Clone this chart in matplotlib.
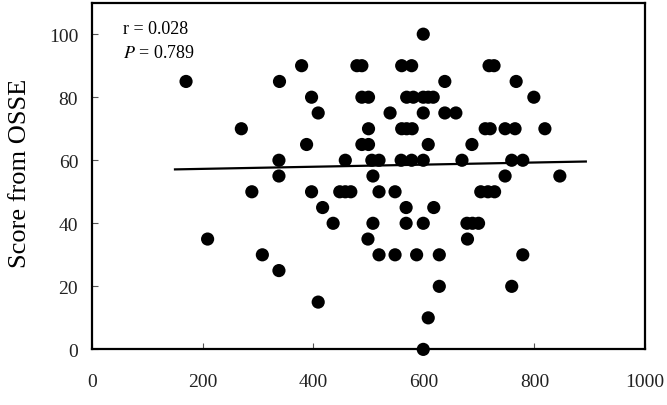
import matplotlib
matplotlib.use('Agg')
import matplotlib.pyplot as plt

plt.rcParams['font.family'] = 'Liberation Serif'
plt.rcParams['mathtext.fontset'] = 'stix'

# points, grouped by score
scores = [100, 90, 85, 80, 75, 70, 65, 60, 55, 50, 45, 40, 35, 30, 25, 20, 15, 10, 0]
xs_by_score = [
    [599],
    [379, 479, 488, 560, 578, 718, 727],
    [170, 339, 638, 767],
    [397, 488, 500, 569, 581, 599, 608, 617, 799],
    [409, 539, 599, 638, 658],
    [270, 500, 560, 569, 579, 711, 720, 747, 765, 819],
    [388, 488, 500, 608, 687],
    [338, 458, 506, 519, 559, 578, 599, 669, 759, 779],
    [338, 508, 747, 846],
    [289, 397, 448, 458, 468, 519, 548, 703, 716, 728],
    [417, 568, 618],
    [436, 508, 568, 599, 678, 688, 699],
    [209, 499, 679],
    [308, 519, 548, 587, 628, 779],
    [338],
    [628, 759],
    [409],
    [608],
    [599],
]

x = []
y = []
for s, row in zip(scores, xs_by_score):
    for v in row:
        x.append(v)
        y.append(s)

# fitted line endpoints
fit_x = [150, 893]
fit_y = [57.1, 59.6]

fig = plt.figure(figsize=(6.67, 4.06), dpi=100)
ax = fig.add_axes([0.138, 0.137, 0.829, 0.854])

ax.scatter(x, y, s=90, c='black', edgecolors='none', zorder=3, clip_on=False)
ax.plot(fit_x, fit_y, color='black', lw=1.6, zorder=2)

ax.set_xlim(0, 1000)
ax.set_ylim(0, 110)
ax.set_xticks([0, 200, 400, 600, 800, 1000])
ax.set_yticks([0, 20, 40, 60, 80, 100])
ax.tick_params(direction='in', length=4, width=0.8, color='#555555',
               labelsize=14, labelcolor='#222222', pad=10)
ax.tick_params(axis='x', pad=17)
for sp in ax.spines.values():
    sp.set_linewidth(1.6)

ax.set_ylabel('Score from OSSE', fontsize=19)
ax.yaxis.set_label_coords(-0.110, 0.51)

ax.text(0.056, 0.95, 'r = 0.028', transform=ax.transAxes, fontsize=13, va='top')
ax.text(0.056, 0.88, r'$P$ = 0.789', transform=ax.transAxes, fontsize=13, va='top')

fig.savefig('out.png', dpi=100)
